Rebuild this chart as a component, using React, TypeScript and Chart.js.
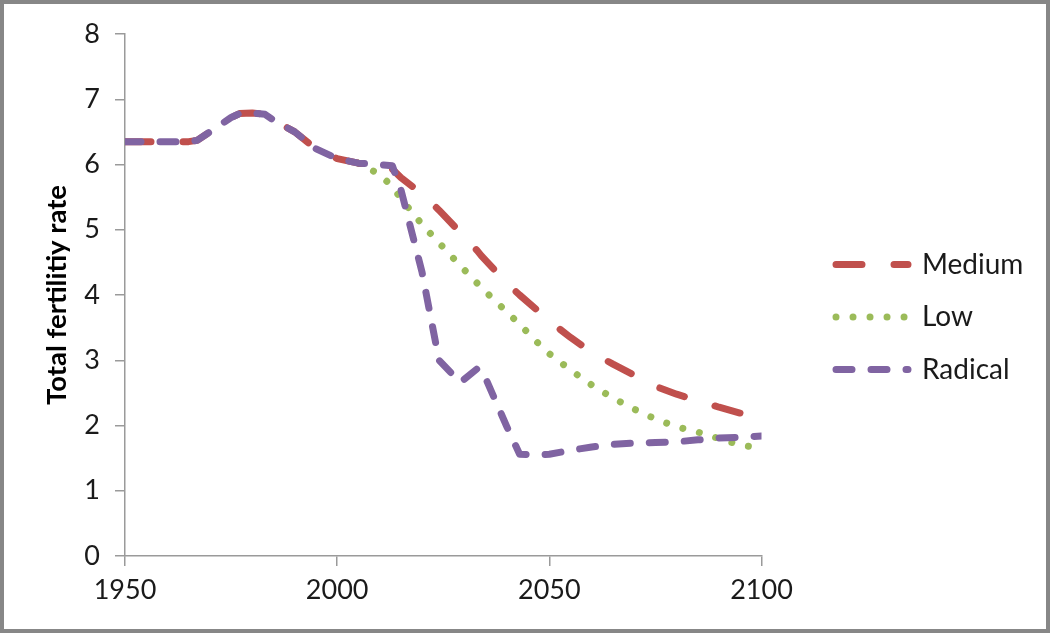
import React, { useEffect, useRef } from "react";
import { Chart, registerables } from "chart.js";

Chart.register(...registerables);

// ---- Data ----
const years = [
  1950, 1955, 1960, 1965, 1967, 1970, 1975, 1977, 1980, 1983, 1985, 1990, 1995,
  2000, 2005, 2010, 2013, 2015, 2020, 2024, 2029, 2033, 2034, 2040, 2043, 2048,
  2050, 2055, 2060, 2065, 2070, 2075, 2080, 2085, 2090, 2095, 2100,
];

const mediumValues = [
  6.35, 6.35, 6.35, 6.35, 6.37, 6.5, 6.72, 6.78, 6.79, 6.77, 6.68, 6.5, 6.24,
  6.09, 6.02, 5.99, 5.93, 5.8, 5.55, 5.3, 4.96, 4.68, 4.6, 4.18, 4.0, 3.72,
  3.6, 3.35, 3.12, 2.94, 2.77, 2.6, 2.48, 2.38, 2.28, 2.19, 2.13,
];

const lowValues: (number | null)[] = [
  null, null, null, null, null, null, null, null, null, null, null, null, null,
  null, 6.02, 5.85, 5.66, 5.48, 5.08, 4.8, 4.45, 4.18, 4.11, 3.74, 3.55, 3.22,
  3.1, 2.85, 2.62, 2.42, 2.25, 2.1, 1.98, 1.9, 1.8, 1.7, 1.65,
];

const radicalValues = [
  6.35, 6.35, 6.35, 6.35, 6.37, 6.5, 6.72, 6.78, 6.79, 6.77, 6.68, 6.5, 6.24,
  6.09, 6.02, 6.0, 5.98, 5.62, 4.35, 3.0, 2.66, 2.87, 2.87, 1.98, 1.56, 1.55,
  1.56, 1.62, 1.67, 1.71, 1.73, 1.74, 1.75, 1.78, 1.81, 1.82, 1.84,
];

const seriesLabels = ["Medium", "Low", "Radical"];
const xTickValues = [1950, 2000, 2050, 2100];
const yTickValues = [0, 1, 2, 3, 4, 5, 6, 7, 8];
const yAxisTitle = "Total fertilitiy rate";

const AXIS_COLOR = "#9a9a9a";
const TEXT_COLOR = "#1a1a1a";
const FONT = "Lato";

export default function App() {
  const ref = useRef<HTMLCanvasElement>(null);

  useEffect(() => {
    document.body.style.margin = "0";
    const canvas = ref.current;
    if (!canvas) return;

    const toPoints = (vals: (number | null)[]) =>
      years.map((x, i) => ({ x, y: vals[i] }));

    const borderPlugin = {
      id: "frameBorder",
      afterDraw(chart: any) {
        const ctx = chart.ctx;
        ctx.save();
        ctx.strokeStyle = "#878787";
        ctx.lineWidth = 4;
        ctx.strokeRect(2, 2, chart.width - 4, chart.height - 4);
        ctx.restore();
      },
    };

    const chart = new Chart(canvas, {
      type: "line",
      data: {
        datasets: [
          {
            label: seriesLabels[0],
            data: toPoints(mediumValues),
            borderColor: "#C0504D",
            backgroundColor: "#C0504D",
            borderWidth: 7,
            borderDash: [26, 32],
            borderCapStyle: "round",
            borderJoinStyle: "round",
            pointRadius: 0,
            tension: 0,
            order: 2,
            yAxisID: "y",
            xAxisID: "x",
          },
          {
            label: seriesLabels[1],
            data: toPoints(lowValues),
            borderColor: "#9BBB59",
            backgroundColor: "#9BBB59",
            borderWidth: 7,
            borderDash: [0.01, 17],
            borderCapStyle: "round",
            borderJoinStyle: "round",
            pointRadius: 0,
            tension: 0,
            order: 3,
            yAxisID: "y",
            xAxisID: "x",
          },
          {
            label: seriesLabels[2],
            data: toPoints(radicalValues),
            borderColor: "#8064A2",
            backgroundColor: "#8064A2",
            borderWidth: 7,
            borderDash: [16, 19],
            borderCapStyle: "round",
            borderJoinStyle: "round",
            pointRadius: 0,
            tension: 0,
            order: 1,
            yAxisID: "y",
            xAxisID: "x",
          },
        ] as any,
      },
      options: {
        animation: false,
        responsive: false,
        devicePixelRatio: 1,
        spanGaps: false,
        layout: { padding: { top: 34, left: 0, right: 23.5, bottom: 0 } },
        plugins: {
          tooltip: { enabled: false },
          legend: {
            display: true,
            position: "right",
            fullSize: false,
            maxWidth: 215,
            title: { display: true, text: " ", padding: 14.8, font: { size: 12 } },
            labels: {
              usePointStyle: true,
              pointStyle: "line",
              pointStyleWidth: 72,
              padding: 24.5,
              color: TEXT_COLOR,
              font: { family: FONT, size: 28 },
              generateLabels: (c: any) =>
                c.data.datasets.map((ds: any, i: number) => ({
                  text: ds.label,
                  fillStyle: "rgba(0,0,0,0)",
                  strokeStyle: ds.borderColor,
                  lineWidth: ds.borderWidth,
                  lineDash: ds.borderDash,
                  lineDashOffset: 0,
                  lineCap: "round",
                  lineJoin: "round",
                  pointStyle: "line",
                  rotation: 0,
                  hidden: false,
                  fontColor: TEXT_COLOR,
                  datasetIndex: i,
                })),
            },
          },
        },
        scales: {
          x: {
            type: "linear",
            position: "bottom",
            min: 1950,
            max: 2100,
            afterBuildTicks: (s: any) => {
              s.ticks = xTickValues.map((v) => ({ value: v }));
            },
            afterFit: (s: any) => {
              s.height = 77;
            },
            ticks: {
              color: TEXT_COLOR,
              font: { family: FONT, size: 27 },
              padding: 8,
              maxRotation: 0,
              autoSkip: false,
              callback: (v: any) => String(v),
            },
            grid: {
              display: true,
              drawOnChartArea: false,
              drawTicks: true,
              tickLength: 10,
              color: AXIS_COLOR,
              lineWidth: 1.5,
            },
            border: { display: true, color: AXIS_COLOR, width: 1.5 },
          },
          y: {
            type: "linear",
            position: "left",
            min: 0,
            max: 8,
            afterBuildTicks: (s: any) => {
              s.ticks = yTickValues.map((v) => ({ value: v }));
            },
            afterFit: (s: any) => {
              s.width = 125;
            },
            ticks: {
              color: TEXT_COLOR,
              font: { family: FONT, size: 27 },
              padding: 15,
              autoSkip: false,
              callback: (v: any) => String(v),
            },
            grid: {
              display: true,
              drawOnChartArea: false,
              drawTicks: true,
              tickLength: 10,
              color: AXIS_COLOR,
              lineWidth: 1.5,
            },
            border: { display: true, color: AXIS_COLOR, width: 1.5 },
            title: {
              display: true,
              text: yAxisTitle,
              color: "#000",
              font: { family: FONT, size: 27.5, weight: "bold" },
              padding: { top: 41, bottom: 0 },
            },
          },
          gap: {
            type: "linear",
            axis: "y",
            position: "right",
            display: true,
            afterFit: (s: any) => {
              s.width = 50;
            },
            ticks: { display: false },
            grid: { display: false },
            border: { display: false },
          },
        } as any,
      },
      plugins: [borderPlugin],
    });

    return () => chart.destroy();
  }, []);

  return (
    <canvas
      ref={ref}
      width={1050}
      height={633}
      style={{ display: "block", width: "1050px", height: "633px" }}
    />
  );
}
